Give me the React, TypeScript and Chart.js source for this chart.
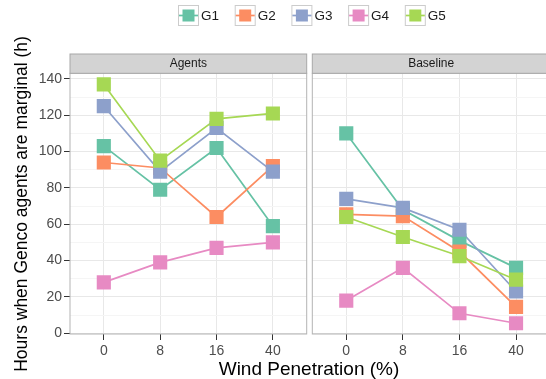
import React, { useEffect, useRef } from 'react';
import { Chart, registerables } from 'chart.js';

Chart.register(...registerables);

const FONT = "'Liberation Sans', Arial, Helvetica, sans-serif";

const categories = ['0', '8', '16', '40'];
const groups = ['G1', 'G2', 'G3', 'G4', 'G5'];
const colors = ['#66C2A5', '#FC8D62', '#8DA0CB', '#E78AC3', '#A6D854'];
const panels = ['Agents', 'Baseline'];

const agentsG1 = [103, 79, 102, 59];
const agentsG2 = [94, 91, 64, 92];
const agentsG3 = [125, 89, 113, 89];
const agentsG4 = [28, 39, 47, 50];
const agentsG5 = [137, 95, 118, 121];

const baselineG1 = [110, 68, 51, 36];
const baselineG2 = [65.5, 64.5, 45, 14.5];
const baselineG3 = [74, 69, 57, 23];
const baselineG4 = [18, 36, 11, 5.5];
const baselineG5 = [64, 53, 42.5, 29.5];

const yTickValues = [0, 10, 20, 30, 40, 50, 60, 70, 80, 90, 100, 110, 120, 130, 140];
const yMin = -0.4;
const yMax = 143.1;

const xTitle = 'Wind Penetration (%)';
const yTitle = 'Hours when Genco agents are marginal (h)';

const agentsSeries = [agentsG1, agentsG2, agentsG3, agentsG4, agentsG5];
const baselineSeries = [baselineG1, baselineG2, baselineG3, baselineG4, baselineG5];

const STRIP_TOP = 54;
const AREA_TOP = 73.3;
const AXIS_H = 379 - 334;

function buildDatasets(series: number[][]) {
  const lines = series.map((vals, g) => ({
    label: groups[g] + ' line',
    data: vals.map((v, i) => ({ x: i + 1, y: v })),
    borderColor: colors[g],
    backgroundColor: colors[g],
    borderWidth: 1.7,
    pointRadius: 0,
    tension: 0,
    order: 20 - g,
  }));
  const points = series.map((vals, g) => ({
    label: groups[g],
    data: vals.map((v, i) => ({ x: i + 1, y: v })),
    showLine: false,
    pointStyle: 'rect',
    pointRadius: 10,
    pointBorderWidth: 0,
    pointBackgroundColor: colors[g],
    pointBorderColor: colors[g],
    backgroundColor: colors[g],
    borderColor: colors[g],
    order: 5 - g,
  }));
  return [...lines, ...points];
}

function panelPlugin(label: string) {
  return {
    id: 'panelDecor',
    afterDatasetsDraw(chart: any) {
      const { ctx, chartArea: a } = chart;
      ctx.save();
      ctx.strokeStyle = '#b3b3b3';
      ctx.lineWidth = 1;
      ctx.strokeRect(a.left, a.top, a.right - a.left, a.bottom - a.top);
      ctx.fillStyle = '#d3d3d3';
      ctx.fillRect(a.left, STRIP_TOP, a.right - a.left, a.top - STRIP_TOP);
      ctx.strokeStyle = '#a8a8a8';
      ctx.strokeRect(a.left, STRIP_TOP, a.right - a.left, a.top - STRIP_TOP);
      ctx.fillStyle = '#1a1a1a';
      ctx.font = `12px ${FONT}`;
      ctx.textAlign = 'center';
      ctx.textBaseline = 'middle';
      ctx.fillText(label, (a.left + a.right) / 2, (STRIP_TOP + a.top) / 2 + 0.5);
      ctx.restore();
    },
  };
}

const legendTitlesPlugin = {
  id: 'legendTitles',
  afterDraw(chart: any) {
    const { ctx } = chart;
    ctx.save();
    const startX = 178;
    const step = 56.7;
    const boxY = 5;
    const box = 20;
    groups.forEach((g, i) => {
      const x = startX + i * step;
      ctx.fillStyle = '#ffffff';
      ctx.fillRect(x, boxY, box, box);
      ctx.strokeStyle = '#cccccc';
      ctx.lineWidth = 1;
      ctx.strokeRect(x + 0.5, boxY + 0.5, box, box);
      ctx.strokeStyle = colors[i];
      ctx.lineWidth = 1.7;
      ctx.beginPath();
      ctx.moveTo(x + 1, boxY + box / 2 + 0.5);
      ctx.lineTo(x + box, boxY + box / 2 + 0.5);
      ctx.stroke();
      ctx.fillStyle = colors[i];
      const s = 12;
      ctx.fillRect(x + box / 2 + 0.5 - s / 2, boxY + box / 2 + 0.5 - s / 2, s, s);
      ctx.fillStyle = '#1a1a1a';
      ctx.font = `13.5px ${FONT}`;
      ctx.textAlign = 'left';
      ctx.textBaseline = 'middle';
      ctx.fillText(g, x + box + 3, boxY + box / 2 + 1);
    });
    ctx.fillStyle = '#000000';
    ctx.font = `19px ${FONT}`;
    ctx.textAlign = 'center';
    ctx.textBaseline = 'middle';
    ctx.fillText(xTitle, 309, 370);
    ctx.translate(22, 204);
    ctx.rotate(-Math.PI / 2);
    ctx.font = `17.5px ${FONT}`;
    ctx.fillText(yTitle, 0, 0);
    ctx.restore();
  },
};

function makeOptions(left: boolean, W: number): any {
  const areaLeft = left ? 70 : 312.3;
  const areaRight = left ? 306.7 : 550;
  return {
    responsive: false,
    maintainAspectRatio: false,
    animation: false,
    devicePixelRatio: 1,
    events: [],
    layout: {
      padding: { top: AREA_TOP, left: left ? 0 : areaLeft, right: W - areaRight, bottom: 0 },
    },
    plugins: { legend: { display: false }, tooltip: { enabled: false } },
    scales: {
      x: {
        type: 'linear',
        min: 0.4,
        max: categories.length + 0.6,
        afterBuildTicks: (s: any) => {
          s.ticks = categories.map((_, i) => ({ value: i + 1 }));
        },
        afterFit: (s: any) => {
          s.height = AXIS_H;
        },
        ticks: {
          callback: (v: any) => categories[Number(v) - 1] ?? '',
          font: { size: 14, family: FONT },
          color: '#4d4d4d',
          padding: 3,
          maxRotation: 0,
          autoSkip: false,
        },
        grid: { color: '#e8e8e8', lineWidth: 1, tickLength: 6, tickColor: '#333333', drawTicks: true },
        border: { display: false },
      },
      y: {
        type: 'linear',
        min: yMin,
        max: yMax,
        afterBuildTicks: (s: any) => {
          s.ticks = yTickValues.map((v) => ({ value: v }));
        },
        afterFit: (s: any) => {
          s.width = left ? areaLeft : 0;
        },
        ticks: {
          display: left,
          callback: (v: any) => (Number(v) % 20 === 0 ? String(v) : ''),
          font: { size: 14, family: FONT },
          color: '#4d4d4d',
          padding: 2,
          autoSkip: false,
        },
        grid: {
          color: (c: any) => (c.tick && c.tick.value % 20 === 0 ? '#e8e8e8' : '#f5f5f5'),
          lineWidth: 1,
          drawTicks: left,
          tickLength: 6,
          tickColor: (c: any) => (c.tick && c.tick.value % 20 === 0 ? '#333333' : 'rgba(0,0,0,0)'),
        },
        border: { display: false },
      },
    },
  };
}

export default function App() {
  const leftRef = useRef<HTMLCanvasElement | null>(null);
  const rightRef = useRef<HTMLCanvasElement | null>(null);

  useEffect(() => {
    document.body.style.margin = '0';
    document.body.style.background = '#ffffff';
    Chart.defaults.font.family = FONT;
    const c1 = new Chart(leftRef.current as HTMLCanvasElement, {
      type: 'line',
      data: { datasets: buildDatasets(agentsSeries) as any },
      options: makeOptions(true, 546),
      plugins: [panelPlugin(panels[0]), legendTitlesPlugin],
    });
    const c2 = new Chart(rightRef.current as HTMLCanvasElement, {
      type: 'line',
      data: { datasets: buildDatasets(baselineSeries) as any },
      options: makeOptions(false, 560),
      plugins: [panelPlugin(panels[1])],
    });
    return () => {
      c1.destroy();
      c2.destroy();
    };
  }, []);

  return (
    <div style={{ position: 'relative', width: 546, height: 379, overflow: 'hidden', background: '#fff' }}>
      <canvas ref={leftRef} width={546} height={379} style={{ position: 'absolute', left: 0, top: 0 }} />
      <canvas ref={rightRef} width={560} height={379} style={{ position: 'absolute', left: 0, top: 0 }} />
    </div>
  );
}
